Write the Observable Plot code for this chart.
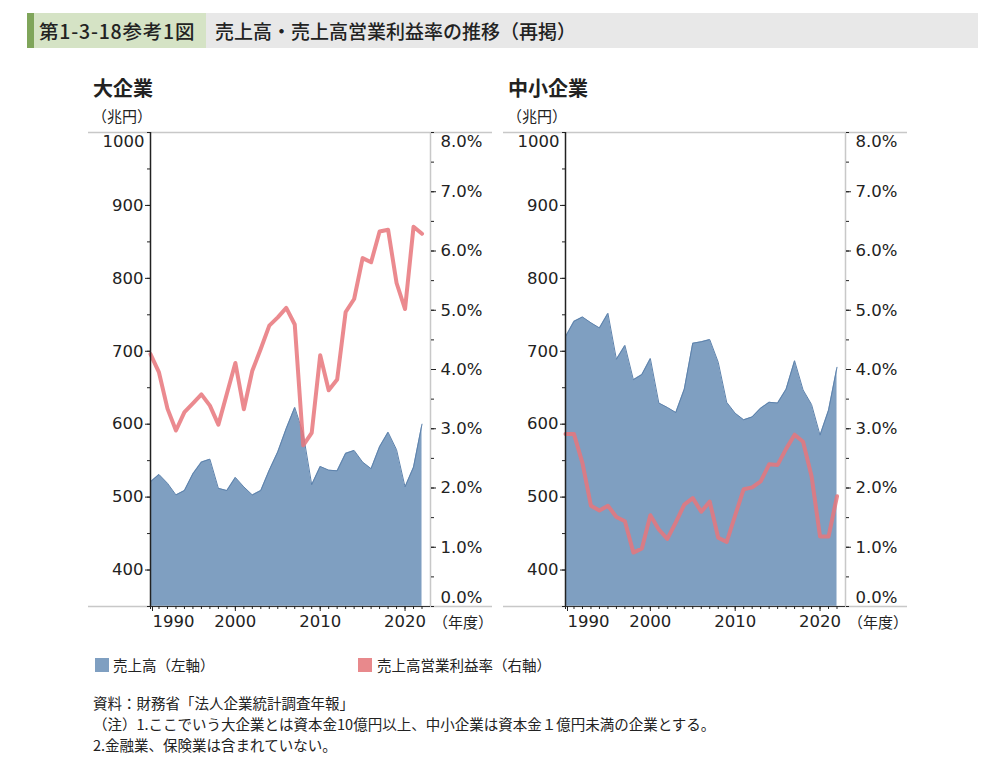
<!DOCTYPE html>
<html><head><meta charset="utf-8">
<script src="https://cdn.jsdelivr.net/npm/d3@7"></script>
<script src="https://cdn.jsdelivr.net/npm/@observablehq/plot@0.6"></script>
<style>
html,body{margin:0;padding:0;background:#fff;}
#root{position:relative;width:1000px;height:778px;font-family:"Noto Sans CJK JP","Noto Sans",sans-serif;color:#222;}
.abs{position:absolute;white-space:nowrap;}
#bar{left:27px;top:13px;width:951px;height:35px;background:#e8e8e8;}
#bar .stripe{position:absolute;left:0;top:0;width:7px;height:35px;background:#7fa55a;}
#bar .lab{position:absolute;left:7px;top:0;width:172px;height:35px;background:#d5e3c5;}
.t{font-size:19px;line-height:35px;font-weight:500;}
.t1{font-size:19.5px;line-height:35px;font-weight:500;letter-spacing:0.8px;}
.sub{font-size:20px;font-weight:700;}
.unit{font-size:15px;}
.leg{font-size:14.5px;}
.sw{position:absolute;width:14px;height:14px;}
.note{font-size:14.5px;line-height:21px;}
svg{position:absolute;}
svg text{font-family:"DejaVu Sans",Verdana,sans-serif;}
</style></head>
<body><div id="root">
<div id="bar" class="abs"><div class="stripe"></div><div class="lab"></div></div>
<div class="abs t1" style="left:39px;top:13px;">第1-3-18参考1図</div>
<div class="abs t" style="left:215px;top:13px;">売上高・売上高営業利益率の推移（再掲）</div>
<div class="abs sub" style="left:93px;top:73px;">大企業</div>
<div class="abs sub" style="left:508px;top:73px;">中小企業</div>
<div class="abs unit" style="left:92px;top:105px;">（兆円）</div>
<div class="abs unit" style="left:507px;top:105px;">（兆円）</div>
<div class="abs unit" style="left:433px;top:611px;">（年度）</div>
<div class="abs unit" style="left:848px;top:611px;">（年度）</div>
<div class="sw" style="left:95px;top:658px;background:#7f9fc1;"></div>
<div class="abs leg" style="left:113px;top:654px;">売上高（左軸）</div>
<div class="sw" style="left:358px;top:658px;background:#e8898c;"></div>
<div class="abs leg" style="left:377px;top:654px;">売上高営業利益率（右軸）</div>
<div class="abs note" style="left:93px;top:692px;">資料：財務省「法人企業統計調査年報」<br>（注）1.ここでいう大企業とは資本金10億円以上、中小企業は資本金１億円未満の企業とする。<br>2.金融業、保険業は含まれていない。</div>
</div>
<script>
// ---- data (fiscal years) ----
const years = [1990,1991,1992,1993,1994,1995,1996,1997,1998,1999,2000,2001,2002,2003,2004,2005,2006,2007,2008,2009,2010,2011,2012,2013,2014,2015,2016,2017,2018,2019,2020,2021,2022];
// 大企業 売上高（兆円）
const largeSales = [521,531,519,503,509,532,548,552,512,509,527,514,503,509,537,562,594,623,587,517,542,537,536,560,564,548,539,569,589,565,514,541,600];
// 大企業 売上高営業利益率（%）
const largeRate = [4.26,3.95,3.34,2.97,3.28,3.43,3.58,3.39,3.07,3.59,4.11,3.33,3.98,4.35,4.74,4.88,5.04,4.76,2.72,2.93,4.24,3.65,3.83,4.97,5.19,5.88,5.81,6.33,6.36,5.46,5.02,6.41,6.29];
// 中小企業 売上高（兆円）
const smallSales = [720,741,747,739,732,752,689,708,661,668,690,629,623,616,648,711,713,716,685,630,615,606,610,622,630,629,648,687,647,627,585,619,678];
// 中小企業 売上高営業利益率（%）
const smallRate = [2.91,2.91,2.42,1.70,1.62,1.70,1.51,1.44,0.91,0.98,1.54,1.30,1.14,1.42,1.72,1.83,1.60,1.77,1.16,1.09,1.54,1.98,2.01,2.11,2.40,2.39,2.66,2.90,2.78,2.20,1.18,1.18,1.86];
// axis ticks
const salesTicks = [400,500,600,700,800,900];
const salesTop = [1000];
const salesMinor = [350,400,450,500,550,600,650,700,750,800,850,900,950,1000];
const rateTicks = [1,2,3,4,5,6,7];
const rateMinor = [0,0.5,1,1.5,2,2.5,3,3.5,4,4.5,5,5.5,6,6.5,7,7.5,8];
const yearTicks = [2000,2010,2020];
const salesDomain = [350,1000];
const rateDomain = [0,8];
const yearDomain = [1990,2023];

const k = (salesDomain[1]-salesDomain[0])/(rateDomain[1]-rateDomain[0]);
const toY = r => salesDomain[0] + (r - rateDomain[0]) * k;
const fromY = v => (v - salesDomain[0]) / k + rateDomain[0];
const pct = v => fromY(v).toFixed(1) + "%";

function chart(sales, rate) {
  const data = years.map((yr, i) => ({year: yr, sales: sales[i], rateY: toY(rate[i])}));
  return Plot.plot({
    width: 420, height: 520,
    marginLeft: 70, marginRight: 70, marginTop: 12, marginBottom: 34,
    x: {domain: yearDomain},
    y: {domain: salesDomain},
    style: {fontFamily: "'DejaVu Sans', Verdana, sans-serif", fontSize: "16.5px", color: "#222", background: "transparent"},
    marks: [
      Plot.areaY(data, {x: "year", y: "sales", fill: "#7f9fc1", clip: true}),
      Plot.lineY(data, {x: "year", y: "sales", stroke: "#5d82ac", strokeWidth: 1}),
      Plot.lineY(data, {x: "year", y: "rateY", stroke: "#e8767b", strokeWidth: 4, strokeOpacity: 0.85}),
      Plot.ruleY([salesDomain[1], salesDomain[0]], {insetLeft: -62, insetRight: -62, stroke: "#c8c8c8", strokeWidth: 1.5}),
      Plot.ruleY([salesDomain[0]], {stroke: "#333", strokeWidth: 1}),
      Plot.ruleX([yearDomain[1]], {stroke: "#c8c8c8", strokeWidth: 1.5}),
      Plot.ruleX([yearDomain[0]], {stroke: "#222", strokeWidth: 1.5}),
      // left axis
      Plot.axisY({anchor: "left", ticks: salesTicks, tickSize: 5, tickPadding: 2, label: null, tickFormat: d => String(d)}),
      Plot.axisY({anchor: "left", ticks: salesMinor, tickSize: 3, label: null, tickFormat: () => ""}),
      Plot.axisY({anchor: "left", ticks: salesTop, tickSize: 0, tickPadding: 6, dy: 9, label: null, tickFormat: d => String(d)}),
      // right axis
      Plot.axisY({anchor: "right", ticks: rateTicks.map(toY), tickSize: 5, tickPadding: 5, label: null, tickFormat: pct}),
      Plot.axisY({anchor: "right", ticks: rateMinor.map(toY), tickSize: 3, label: null, tickFormat: () => ""}),
      Plot.axisY({anchor: "right", ticks: [toY(rateDomain[1])], tickSize: 0, tickPadding: 10, dy: 9, label: null, tickFormat: pct}),
      Plot.axisY({anchor: "right", ticks: [toY(rateDomain[0])], tickSize: 0, tickPadding: 10, dy: -9, label: null, tickFormat: pct}),
      // x axis
      Plot.axisX({ticks: years, tickSize: 3, label: null, tickFormat: () => ""}),
      Plot.axisX({ticks: yearTicks, tickSize: 5, tickPadding: 4, label: null, tickFormat: d => String(d)}),
      Plot.axisX({ticks: [yearDomain[0]], tickSize: 5, tickPadding: 4, label: null, textAnchor: "start", dx: 2, tickFormat: d => String(d)})
    ]
  });
}

const root = document.getElementById("root");
const a = chart(largeSales, largeRate);
a.style.left = "80px"; a.style.top = "120px";
root.appendChild(a);
const b = chart(smallSales, smallRate);
b.style.left = "495px"; b.style.top = "120px";
root.appendChild(b);
</script>
</body></html>
